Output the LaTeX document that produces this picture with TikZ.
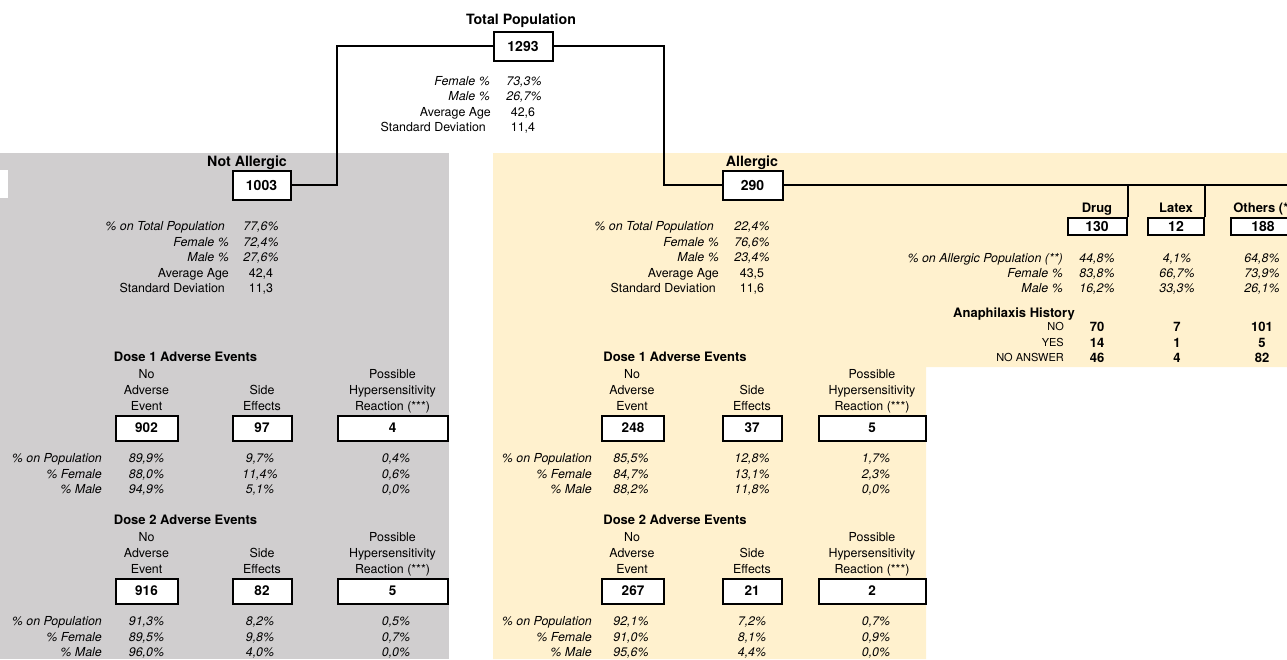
\documentclass[tikz,border=0pt]{standalone}
\usepackage{fontspec}
\setmainfont{TeX Gyre Heros}
\definecolor{greyp}{RGB}{208,206,207}
\definecolor{yelp}{RGB}{255,241,206}
\tikzset{
 tx/.style={inner sep=0pt, text height=8.9pt, text depth=0pt, font=\fontsize{12.4}{14}\selectfont},
 ti/.style={inner sep=0pt, text height=8.9pt, text depth=0pt, font=\fontsize{12.4}{14}\selectfont\itshape},
 tb/.style={inner sep=0pt, text height=10.2pt, text depth=0pt, font=\fontsize{14.2}{16}\selectfont\bfseries},
 tbs/.style={inner sep=0pt, text height=9.3pt, text depth=0pt, font=\fontsize{13}{15}\selectfont\bfseries},
 tsm/.style={inner sep=0pt, text height=7.9pt, text depth=0pt, font=\fontsize{11}{13}\selectfont},
 bx/.style={draw, line width=2pt, fill=white, inner sep=0pt, font=\fontsize{14}{16}\selectfont\bfseries},
 dbx/.style={bx, minimum height=25pt, font=\fontsize{13.5}{16}\selectfont\bfseries},
 sbx/.style={bx, minimum height=17pt, font=\fontsize{14}{16}\selectfont\bfseries},
 conn/.style={line width=2pt},
}
\newcommand{\MyDoseHead}[7]{%
 \node[tbs] (#1h) at (#4,#2) {#3};
 \node[tx] (#1n1) at (#5,#2+17) {No};
 \node[tx] (#1n2) at (#5,#2+33) {Adverse};
 \node[tx] (#1n3) at (#5,#2+49) {Event};
 \node[tx] (#1s1) at (#6,#2+33) {Side};
 \node[tx] (#1s2) at (#6,#2+49) {Effects};
 \node[tx] (#1p1) at (#7,#2+17) {Possible};
 \node[tx] (#1p2) at (#7,#2+33) {Hypersensitivity};
 \node[tx] (#1p3) at (#7,#2+49) {Reaction (***)};
}
\newcommand{\MyDoseBoxes}[9]{%
 \node[dbx, minimum width=62pt] (#1b1) at (#3,#2+71) {#7};
 \node[dbx, minimum width=59pt] (#1b2) at (#4,#2+71) {#8};
 \node[dbx, minimum width=#6pt] (#1b3) at (#5,#2+71) {#9};
}
\newcommand{\MyDoseRow}[6]{%
 \node[ti, anchor=east] (#1l) at (\MyLX,#2) {#3};
 \node[ti] (#1a) at (\MyVA,#2) {#4};
 \node[ti] (#1b) at (\MyVB,#2) {#5};
 \node[ti] (#1c) at (\MyVC,#2) {#6};
}
\begin{document}
\begin{tikzpicture}[x=1pt,y=-1pt]
\useasboundingbox (0,0) rectangle (1287,659);
% panels
\fill[greyp] (0,153) rectangle (449,659);
\fill[white] (0,170) rectangle (8,198);
\fill[yelp] (493,153) -- (1287,153) -- (1287,367) -- (926,367) -- (926,659) -- (493,659) -- cycle;

% total population
\node[tb] (tpt) at (521,19) {Total Population};
\node[bx, minimum width=59pt, minimum height=29pt] (tp) at (523,46) {1293};
\node[ti, anchor=east] (tfl) at (490,81) {Female \%};
\node[ti] (tfv) at (524,81) {73,3\%};
\node[ti, anchor=east] (tml) at (490,96.5) {Male \%};
\node[ti] (tmv) at (524,96.5) {26,7\%};
\node[tx, anchor=east] (tal) at (491,112) {Average Age};
\node[tx] (tav) at (523,112) {42,6};
\node[tx, anchor=east] (tsl) at (486,127.5) {Standard Deviation};
\node[tx] (tsv) at (523,127.5) {11,4};

% not allergic
\node[tb] (nat) at (247,161) {Not Allergic};
\node[bx, minimum width=58pt, minimum height=29pt] (na) at (261.5,185) {1003};
\node[ti, anchor=east] (n1l) at (225,226) {\% on Total Population};
\node[ti] (n1v) at (261,226) {77,6\%};
\node[ti, anchor=east] (n2l) at (229,242) {Female \%};
\node[ti] (n2v) at (261,242) {72,4\%};
\node[ti, anchor=east] (n3l) at (229,257) {Male \%};
\node[ti] (n3v) at (261,257) {27,6\%};
\node[tx, anchor=east] (n4l) at (229,273) {Average Age};
\node[tx] (n4v) at (261,273) {42,4};
\node[tx, anchor=east] (n5l) at (225,288) {Standard Deviation};
\node[tx] (n5v) at (261,288) {11,3};

% allergic
\node[tb] (alt) at (752,161) {Allergic};
\node[bx, minimum width=60pt, minimum height=29pt] (al) at (752.5,185) {290};
\node[ti, anchor=east] (a1l) at (714,226) {\% on Total Population};
\node[ti] (a1v) at (752,226) {22,4\%};
\node[ti, anchor=east] (a2l) at (719,242) {Female \%};
\node[ti] (a2v) at (752,242) {76,6\%};
\node[ti, anchor=east] (a3l) at (719,257) {Male \%};
\node[ti] (a3v) at (752,257) {23,4\%};
\node[tx, anchor=east] (a4l) at (719,273) {Average Age};
\node[tx] (a4v) at (752,273) {43,5};
\node[tx, anchor=east] (a5l) at (716,288) {Standard Deviation};
\node[tx] (a5v) at (752,288) {11,6};

% allergic subgroups
\node[tbs] (drt) at (1097,208) {Drug};
\node[sbx, minimum width=59pt] (drug) at (1097,226) {130};
\node[tbs] (ltt) at (1176,208) {Latex};
\node[sbx, minimum width=56pt] (lat) at (1176,226) {12};
\node[tbs] (ott) at (1263,208) {Others (*)};
\node[sbx, minimum width=65pt] (oth) at (1263,226) {188};
\node[ti, anchor=east] (g1l) at (1063,258) {\% on Allergic Population (**)};
\node[ti] (g1a) at (1097,258) {44,8\%};
\node[ti] (g1b) at (1177,258) {4,1\%};
\node[ti] (g1c) at (1262,258) {64,8\%};
\node[ti, anchor=east] (g2l) at (1063,273) {Female \%};
\node[ti] (g2a) at (1097,273) {83,8\%};
\node[ti] (g2b) at (1177,273) {66,7\%};
\node[ti] (g2c) at (1262,273) {73,9\%};
\node[ti, anchor=east] (g3l) at (1063,288) {Male \%};
\node[ti] (g3a) at (1097,288) {16,2\%};
\node[ti] (g3b) at (1177,288) {33,3\%};
\node[ti] (g3c) at (1262,288) {26,1\%};
\node[tbs, anchor=west] (anh) at (953,313) {Anaphilaxis History};
\node[tsm, anchor=east] (h1l) at (1064,327) {NO};
\node[tbs] (h1a) at (1097,327) {70};
\node[tbs] (h1b) at (1177,327) {7};
\node[tbs] (h1c) at (1262,327) {101};
\node[tsm, anchor=east] (h2l) at (1064,343) {YES};
\node[tbs] (h2a) at (1097,343) {14};
\node[tbs] (h2b) at (1177,343) {1};
\node[tbs] (h2c) at (1262,343) {5};
\node[tsm, anchor=east] (h3l) at (1064,358) {NO ANSWER};
\node[tbs] (h3a) at (1097,358) {46};
\node[tbs] (h3b) at (1177,358) {4};
\node[tbs] (h3c) at (1262,358) {82};

% dose blocks, not allergic
\def\MyLX{102}\def\MyVA{146.5}\def\MyVB{260}\def\MyVC{396}
\MyDoseHead{nda}{357}{Dose 1 Adverse Events}{185.5}{146.5}{262}{392.5}
\MyDoseBoxes{nda}{357}{146.5}{262}{392.5}{110}{902}{97}{4}
\MyDoseRow{ndar1}{458}{\% on Population}{89,9\%}{9,7\%}{0,4\%}
\MyDoseRow{ndar2}{474}{\% Female}{88,0\%}{11,4\%}{0,6\%}
\MyDoseRow{ndar3}{489}{\% Male}{94,9\%}{5,1\%}{0,0\%}
\MyDoseHead{ndb}{520}{Dose 2 Adverse Events}{185.5}{146.5}{262}{392.5}
\MyDoseBoxes{ndb}{520}{146.5}{262}{392.5}{110}{916}{82}{5}
\MyDoseRow{ndbr1}{621}{\% on Population}{91,3\%}{8,2\%}{0,5\%}
\MyDoseRow{ndbr2}{637}{\% Female}{89,5\%}{9,8\%}{0,7\%}
\MyDoseRow{ndbr3}{652}{\% Male}{96,0\%}{4,0\%}{0,0\%}

% dose blocks, allergic
\def\MyLX{592}\def\MyVA{631}\def\MyVB{752}\def\MyVC{876}
\MyDoseHead{ada}{357}{Dose 1 Adverse Events}{675}{632}{752}{872}
\MyDoseBoxes{ada}{357}{633}{752}{872}{107}{248}{37}{5}
\MyDoseRow{adar1}{458}{\% on Population}{85,5\%}{12,8\%}{1,7\%}
\MyDoseRow{adar2}{474}{\% Female}{84,7\%}{13,1\%}{2,3\%}
\MyDoseRow{adar3}{489}{\% Male}{88,2\%}{11,8\%}{0,0\%}
\MyDoseHead{adb}{520}{Dose 2 Adverse Events}{675}{632}{752}{872}
\MyDoseBoxes{adb}{520}{633}{752}{872}{107}{267}{21}{2}
\MyDoseRow{adbr1}{621}{\% on Population}{92,1\%}{7,2\%}{0,7\%}
\MyDoseRow{adbr2}{637}{\% Female}{91,0\%}{8,1\%}{0,9\%}
\MyDoseRow{adbr3}{652}{\% Male}{95,6\%}{4,4\%}{0,0\%}

% connectors
\coordinate (k1) at (337,185);
\coordinate (k2) at (664,185);
\coordinate (rend) at (1295,185);
\draw[conn] (tp.west) -| (k1) -- (na.east);
\draw[conn] (tp.east) -| (k2) -- (al.west);
\draw[conn] (al.east) -- (rend);
\draw[conn] (drug.north east |- al.east) -- (drug.north east);
\draw[conn] (lat.north east |- al.east) -- (lat.north east);
\end{tikzpicture}
\end{document}
